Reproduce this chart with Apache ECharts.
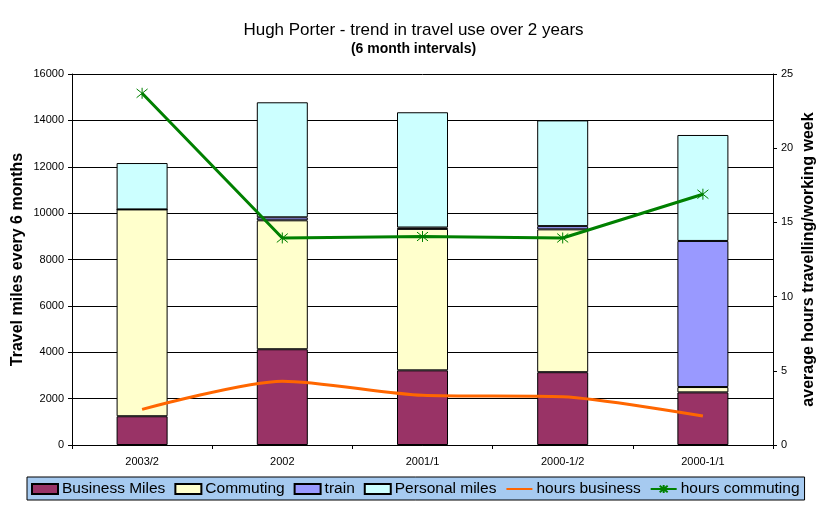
<!DOCTYPE html>
<html>
<head>
<meta charset="utf-8">
<script src="https://cdn.jsdelivr.net/npm/echarts@6/dist/echarts.min.js"></script>
<style>html,body{margin:0;padding:0;background:#fff}#c{width:827px;height:508px}</style>
</head>
<body>
<div id="c"></div>
<script>
const categories = ['2003/2', '2002', '2001/1', '2000-1/2', '2000-1/1'];
const businessMiles = [1240, 4130, 3220, 3140, 2270];
const commuting = [8920, 5560, 6100, 6160, 230];
const train = [0, 130, 60, 140, 6300];
const personalMiles = [2000, 4960, 4970, 4560, 4570];
const hoursBusiness = [2.4, 4.3, 3.35, 3.25, 1.95];
const hoursCommuting = [23.7, 13.95, 14.05, 13.95, 16.9];
const leftTicks = {min: 0, max: 16000, interval: 2000};
const rightTicks = {min: 0, max: 25, interval: 5};

const FONT = '"Liberation Sans", Arial, sans-serif';
const chart = echarts.init(document.getElementById('c'), null, {renderer: 'canvas'});
const barStyle = (c) => ({color: c, borderColor: '#000', borderWidth: 1});
const star = 'path://M1,1L9,9M9,1L1,9M5,0L5,10';

chart.setOption({
  animation: false,
  backgroundColor: '#fff',
  textStyle: {fontFamily: FONT, color: '#000'},
  title: {
    text: 'Hugh Porter - trend in travel use over 2 years',
    subtext: '(6 month intervals)',
    left: 'center',
    top: 17,
    padding: [5, 5, 5, 5],
    itemGap: 3,
    textStyle: {fontFamily: FONT, fontSize: 17, fontWeight: 'normal', color: '#000'},
    subtextStyle: {fontFamily: FONT, fontSize: 14, fontWeight: 'bold', color: '#000'}
  },
  legend: {
    left: 27,
    top: 477,
    backgroundColor: '#A6CAF0',
    borderColor: '#000',
    borderWidth: 1,
    borderRadius: 0,
    padding: [4, 5, 3, 4],
    itemGap: 9,
    itemWidth: 26,
    itemHeight: 10,
    textStyle: {fontFamily: FONT, fontSize: 15.5, color: '#000', padding: [0, 0, 0, -1]},
    data: [
      {name: 'Business Miles', icon: 'rect'},
      {name: 'Commuting', icon: 'rect'},
      {name: 'train', icon: 'rect'},
      {name: 'Personal miles', icon: 'rect'},
      {name: 'hours business', itemStyle: {color: 'rgba(0,0,0,0)', borderColor: 'rgba(0,0,0,0)', opacity: 0}},
      {name: 'hours commuting'}
    ]
  },
  grid: {left: 72, right: 54, top: 74, bottom: 63, containLabel: false, outerBoundsMode: 'none'},
  xAxis: {
    type: 'category',
    data: categories,
    boundaryGap: true,
    axisLine: {lineStyle: {color: '#000', width: 1}},
    axisTick: {show: true, length: 4, lineStyle: {color: '#000'}},
    axisLabel: {fontFamily: FONT, fontSize: 11, color: '#000', margin: 11}
  },
  yAxis: [
    {
      type: 'value',
      min: leftTicks.min, max: leftTicks.max, interval: leftTicks.interval,
      name: 'Travel miles every 6 months',
      nameLocation: 'middle',
      nameGap: 46,
      nameMoveOverlap: false,
      nameTextStyle: {fontFamily: FONT, fontSize: 16, fontWeight: 'bold', color: '#000'},
      axisLine: {show: true, lineStyle: {color: '#000'}},
      axisTick: {show: true, length: 4, lineStyle: {color: '#000'}},
      axisLabel: {fontFamily: FONT, fontSize: 11, color: '#000', margin: 8, formatter: (v) => String(v)},
      splitLine: {show: true, lineStyle: {color: '#000', width: 1}}
    },
    {
      type: 'value',
      min: rightTicks.min, max: rightTicks.max, interval: rightTicks.interval,
      position: 'right',
      name: 'average hours travelling/working week',
      nameLocation: 'middle',
      nameGap: 28,
      nameMoveOverlap: false,
      nameRotate: 90,
      nameTextStyle: {fontFamily: FONT, fontSize: 16, fontWeight: 'bold', color: '#000'},
      axisLine: {show: true, lineStyle: {color: '#000'}},
      axisTick: {show: true, length: 4, lineStyle: {color: '#000'}},
      axisLabel: {fontFamily: FONT, fontSize: 11, color: '#000', margin: 8},
      splitLine: {show: false}
    }
  ],
  series: [
    {name: 'Business Miles', type: 'bar', stack: 'm', barWidth: 51, data: businessMiles, itemStyle: barStyle('#993366')},
    {name: 'Commuting', type: 'bar', stack: 'm', barWidth: 51, data: commuting, itemStyle: barStyle('#FFFFCC')},
    {name: 'train', type: 'bar', stack: 'm', barWidth: 51, data: train, itemStyle: barStyle('#9999FF')},
    {name: 'Personal miles', type: 'bar', stack: 'm', barWidth: 51, data: personalMiles, itemStyle: barStyle('#CCFFFF')},
    {name: 'hours business', type: 'line', yAxisIndex: 1, data: hoursBusiness, symbol: 'none', smooth: 0.25,
      lineStyle: {color: '#FF6600', width: 3}, itemStyle: {color: '#FF6600'}, z: 5},
    {name: 'hours commuting', type: 'line', yAxisIndex: 1, data: hoursCommuting, symbol: star, symbolSize: 11,
      lineStyle: {color: '#008000', width: 3},
      itemStyle: {color: 'none', borderColor: '#008000', borderWidth: 1}, z: 6}
  ]
});
</script>
</body>
</html>
